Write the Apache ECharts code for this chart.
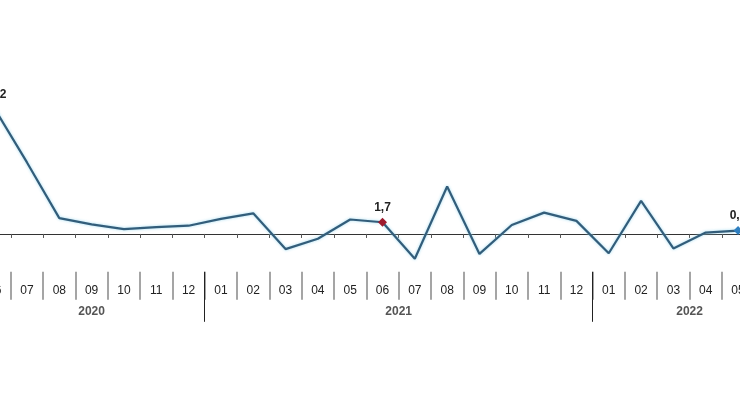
<!DOCTYPE html>
<html>
<head>
<meta charset="utf-8">
<script src="https://cdn.jsdelivr.net/npm/echarts@6/dist/echarts.min.js"></script>
<style>
  html, body { margin: 0; padding: 0; background: #fff; }
  #chart { width: 740px; height: 400px; }
</style>
</head>
<body>
<div id="chart"></div>
<script>
const months = ['06', '07', '08', '09', '10', '11', '12',
  '01', '02', '03', '04', '05', '06', '07', '08', '09', '10', '11', '12',
  '01', '02', '03', '04', '05'];
const values = [18.2, 10.4, 2.3, 1.4, 0.7, 1.0, 1.2,
  2.2, 3.0, -2.2, -0.7, 2.1, 1.7, -3.6, 6.9, -2.9, 1.3, 3.1, 1.9,
  -2.8, 4.8, -2.1, 0.2, 0.5];
const yearNames = ['2020', '2021', '2022'];
// first and last month index of every year block (2022 runs one month past the picture)
const yearStart = [0, 7, 19];
const yearEnd = [6, 18, 24];
const labelledPoints = [0, 12, 23];

const fmt = v => v.toFixed(1).replace('.', ',');

const seriesData = values.map((v, i) => {
  if (!labelledPoints.includes(i)) return v;
  const last = i === values.length - 1;
  return {
    value: v,
    symbol: 'diamond',
    symbolSize: 9,
    itemStyle: { color: last ? '#2f7fc0' : '#9e1b2e' },
    label: { show: true, position: 'top', distance: 4, formatter: () => fmt(v) },
  };
});

const monthSeps = months.slice(0, -1).map((m, i) => i + 0.5);
const yearSeps = yearStart.slice(1).map(s => s - 0.5);
const yearCenters = yearStart.map((s, i) => (s + yearEnd[i]) / 2);

// grid box and y range; the zero line axis is lifted up from the grid bottom
const gridTop = 96.4;
const gridBottom = 128.2;
const yMin = -5.5;
const yMax = 20;
const zeroLift = (400 - gridTop - gridBottom) * (0 - yMin) / (yMax - yMin);

const chart = echarts.init(document.getElementById('chart'), null, { renderer: 'canvas' });
chart.setOption({
  animation: false,
  backgroundColor: '#fff',
  textStyle: { fontFamily: 'Liberation Sans, Arial, sans-serif' },
  grid: {
    left: -21.5,
    right: -14.2,
    top: gridTop,
    bottom: gridBottom,
    outerBoundsMode: 'none',
    containLabel: false,
  },
  xAxis: [
    {
      type: 'category',
      data: months,
      position: 'bottom',
      offset: -zeroLift,
      axisLine: { onZero: false, lineStyle: { color: '#333', width: 1 } },
      axisTick: { show: true, length: 4, lineStyle: { color: '#555', width: 1 } },
      axisLabel: { margin: 51, fontSize: 12, color: '#222', interval: 0 },
    },
    {
      type: 'value',
      min: -0.5,
      max: 23.5,
      position: 'bottom',
      axisLine: { show: false, onZero: false },
      splitLine: { show: false },
      axisLabel: { show: false },
      axisTick: {
        show: true,
        length: 28,
        customValues: monthSeps,
        lineStyle: { color: '#a5a5a5', width: 2 },
      },
    },
    {
      type: 'value',
      min: -0.5,
      max: 23.5,
      position: 'bottom',
      axisLine: { show: false, onZero: false },
      splitLine: { show: false },
      axisTick: {
        show: true,
        length: 50,
        customValues: yearSeps,
        lineStyle: { color: '#222', width: 1 },
      },
      axisLabel: {
        margin: 34,
        fontSize: 12,
        fontWeight: 'bold',
        color: '#555',
        customValues: yearCenters,
        formatter: v => yearNames[yearCenters.indexOf(v)],
      },
    },
  ],
  yAxis: {
    type: 'value',
    min: yMin,
    max: yMax,
    show: false,
  },
  series: [
    {
      type: 'line',
      data: seriesData,
      symbol: 'none',
      showSymbol: true,
      lineStyle: {
        color: '#335d7a',
        width: 2.2,
        shadowColor: 'rgba(150, 215, 240, 0.9)',
        shadowBlur: 3,
      },
      itemStyle: { color: '#335d7a' },
      label: { fontSize: 12, fontWeight: 'bold', color: '#222' },
    },
  ],
});
</script>
</body>
</html>
